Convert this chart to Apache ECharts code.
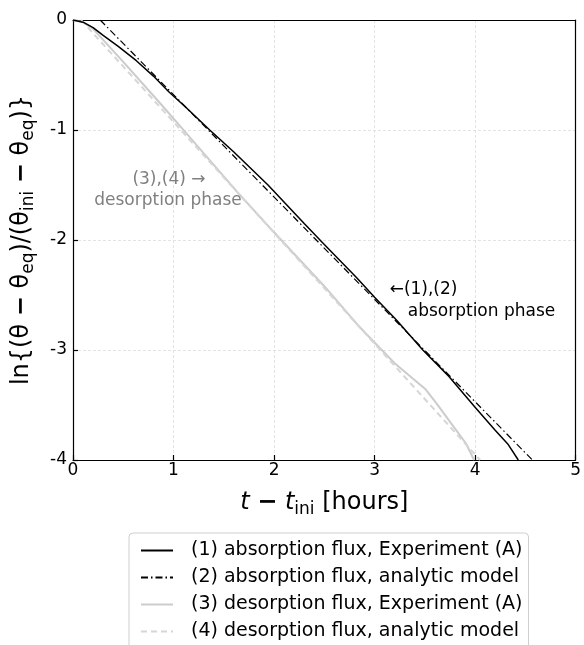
<!DOCTYPE html>
<html>
<head>
<meta charset="utf-8">
<script src="https://cdn.jsdelivr.net/npm/echarts@6/dist/echarts.min.js"></script>
<style>
html,body{margin:0;padding:0;background:#fff;}
#chart{width:584px;height:645px;}
</style>
</head>
<body>
<div id="chart"></div>
<script>
// (1) absorption flux, Experiment (A)
const tAbsExp = [0, 0.1, 0.2, 0.3, 0.45, 0.63, 0.8, 0.95, 1.13, 1.36, 1.6, 1.94, 2.3, 2.5, 2.82, 3.0, 3.22, 3.48, 3.74, 4.0, 4.2, 4.33, 4.43];
const yAbsExp = [0, -0.02, -0.07, -0.14, -0.24, -0.37, -0.51, -0.65, -0.80, -1.0, -1.2, -1.50, -1.85, -2.04, -2.34, -2.52, -2.73, -3.0, -3.24, -3.52, -3.73, -3.86, -4.0];
// (2) absorption flux, analytic model
const tAbsModel = [0.27, 4.57];
const yAbsModel = [0, -4.0];
// (3) desorption flux, Experiment (A)
const tDesExp = [0, 0.1, 0.2, 0.3, 0.5, 0.86, 1.07, 1.64, 2.0, 2.5, 2.83, 3.05, 3.2, 3.38, 3.51, 3.62, 3.74, 3.91, 3.99];
const yDesExp = [0, -0.02, -0.08, -0.18, -0.38, -0.75, -0.97, -1.57, -1.93, -2.42, -2.77, -2.98, -3.12, -3.26, -3.36, -3.49, -3.64, -3.85, -4.0];
// (4) desorption flux, analytic model
const tDesModel = [0.08, 4.05];
const yDesModel = [0, -4.0];

const seriesNames = [
  '(1) absorption flux, Experiment (A)',
  '(2) absorption flux, analytic model',
  '(3) desorption flux, Experiment (A)',
  '(4) desorption flux, analytic model'
];
const xTicks = [0, 1, 2, 3, 4, 5];
const yTicks = [-4, -3, -2, -1, 0];

function zip(a, b) { return a.map((v, i) => [v, b[i]]); }

const FONT = 'DejaVu Sans';
const chart = echarts.init(document.getElementById('chart'), null, {renderer: 'canvas'});

const frameAxis = {
  axisLine: {show: true, onZero: false, lineStyle: {color: '#000', width: 1.2}},
  axisTick: {show: false}, axisLabel: {show: false}, splitLine: {show: false}
};

chart.setOption({
  animation: false,
  backgroundColor: '#fff',
  textStyle: {fontFamily: FONT},
  grid: {left: 73, right: 3, top: 20, bottom: 185},
  xAxis: [{
    type: 'value', min: xTicks[0], max: xTicks[xTicks.length - 1], interval: 1,
    axisLine: {show: true, onZero: false, lineStyle: {color: '#000', width: 1.2}},
    axisTick: {show: true, inside: true, length: 5, lineStyle: {color: '#000', width: 1.2}},
    axisLabel: {color: '#000', fontSize: 17, fontFamily: FONT, margin: 2},
    splitLine: {show: true, lineStyle: {color: '#dcdcdc', type: [3, 2], width: 0.8}},
    name: '{it|t} {b|−} {it|t}{sub|ini} {n|[hours]}',
    nameLocation: 'middle', nameGap: 28,
    nameTextStyle: {
      color: '#000', fontFamily: FONT, fontSize: 24,
      rich: {
        it: {fontStyle: 'italic', fontSize: 24, fontFamily: FONT, color: '#000', lineHeight: 30},
        b: {fontSize: 24, fontWeight: 'bold', fontFamily: FONT, color: '#000', lineHeight: 30},
        sub: {fontSize: 17, fontFamily: FONT, color: '#000', verticalAlign: 'bottom', lineHeight: 19},
        n: {fontSize: 24, fontFamily: FONT, color: '#000', lineHeight: 30}
      }
    }
  }, Object.assign({type: 'value', position: 'top', min: xTicks[0], max: xTicks[xTicks.length - 1], interval: 1}, frameAxis)],
  yAxis: [{
    type: 'value', min: yTicks[0], max: yTicks[yTicks.length - 1], interval: 1,
    axisLine: {show: true, onZero: false, lineStyle: {color: '#000', width: 1.2}},
    axisTick: {show: true, inside: true, length: 5, lineStyle: {color: '#000', width: 1.2}},
    axisLabel: {color: '#000', fontSize: 17, fontFamily: FONT, margin: 6},
    splitLine: {show: true, lineStyle: {color: '#dcdcdc', type: [3, 2], width: 0.8}},
    name: '{n|ln{(θ }{b|−}{n| θ}{sub|eq}{n|)/(θ}{sub|ini}{n| }{b|−}{n| θ}{sub|eq}{n|)}}',
    nameLocation: 'middle', nameGap: 36, nameRotate: 90,
    nameTextStyle: {
      color: '#000', fontFamily: FONT, fontSize: 24,
      rich: {
        n: {fontSize: 24, fontFamily: FONT, color: '#000', lineHeight: 30},
        b: {fontSize: 24, fontWeight: 'bold', fontFamily: FONT, color: '#000', lineHeight: 30},
        sub: {fontSize: 17, fontFamily: FONT, color: '#000', verticalAlign: 'bottom', lineHeight: 19}
      }
    }
  }, Object.assign({type: 'value', position: 'right', min: yTicks[0], max: yTicks[yTicks.length - 1], interval: 1}, frameAxis)],
  legend: {
    orient: 'vertical', left: 129, top: 533, height: 140, width: 400,
    padding: [8, 6, 8, 11],
    itemWidth: 32, itemHeight: 19, itemGap: 8,
    borderColor: '#cfcfcf', borderWidth: 1, borderRadius: 4,
    itemStyle: {opacity: 0},
    textStyle: {color: '#000', fontSize: 19, lineHeight: 19, fontFamily: FONT, padding: [0, 0, 0, 13]},
    data: seriesNames
  },
  series: [
    {
      name: seriesNames[0], type: 'line', data: zip(tAbsExp, yAbsExp), symbol: 'none',
      lineStyle: {color: '#000', width: 1.5}, itemStyle: {color: '#000'}, z: 3,
      markPoint: {
        symbol: 'circle', symbolSize: 0, silent: true,
        label: {show: true, color: '#000', fontFamily: FONT, fontSize: 17, position: 'right', distance: 0},
        data: [
          {coord: [3.15, -2.45], label: {formatter: '←(1),(2)'}},
          {coord: [3.33, -2.65], label: {formatter: 'absorption phase'}}
        ]
      }
    },
    {
      name: seriesNames[1], type: 'line', data: zip(tAbsModel, yAbsModel), symbol: 'none',
      lineStyle: {color: '#000', width: 1.2, type: [7, 3, 1.5, 3]}, itemStyle: {color: '#000'}, z: 4
    },
    {
      name: seriesNames[2], type: 'line', data: zip(tDesExp, yDesExp), symbol: 'none',
      lineStyle: {color: '#cccccc', width: 2}, itemStyle: {color: '#cccccc'}, z: 1,
      markPoint: {
        symbol: 'circle', symbolSize: 0, silent: true,
        label: {show: true, color: '#808080', fontFamily: FONT, fontSize: 17, position: 'inside'},
        data: [
          {coord: [0.955, -1.455], label: {formatter: '(3),(4) →'}},
          {coord: [0.945, -1.645], label: {formatter: 'desorption phase'}}
        ]
      }
    },
    {
      name: seriesNames[3], type: 'line', data: zip(tDesModel, yDesModel), symbol: 'none',
      lineStyle: {color: '#d6d6d6', width: 2, type: [6, 4]}, itemStyle: {color: '#d6d6d6'}, z: 2
    }
  ]
});
</script>
</body>
</html>
